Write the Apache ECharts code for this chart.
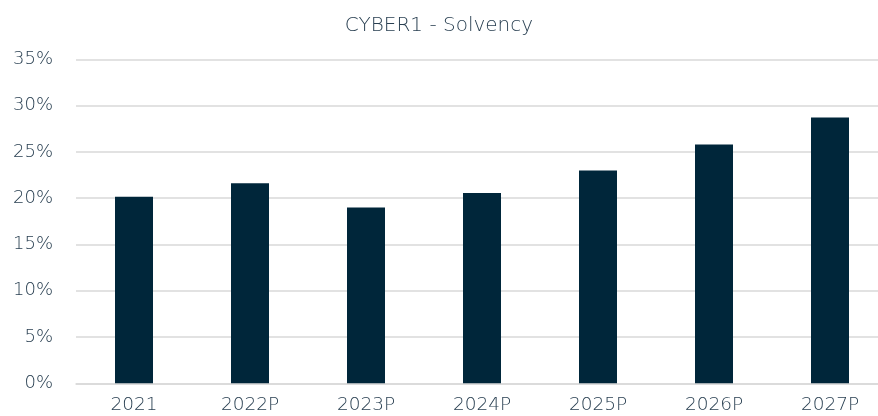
<!DOCTYPE html>
<html>
<head>
<meta charset="utf-8">
<script src="https://cdn.jsdelivr.net/npm/echarts@6/dist/echarts.min.js"></script>
<style>
  html, body { margin: 0; padding: 0; background: #fff; }
  #chart { width: 878px; height: 416px; }
</style>
</head>
<body>
<div id="chart"></div>
<script>
const categories = ['2021', '2022P', '2023P', '2024P', '2025P', '2026P', '2027P']
const solvency = [20.15, 21.6, 19.0, 20.55, 23.0, 25.8, 28.7]

const TEXT = '#2a4052'
const BAR = '#00263a'
const GRID = '#d9d9d9'
const FONT = '"DejaVu Sans", sans-serif'

const chart = echarts.init(document.getElementById('chart'), null, { renderer: 'canvas' })

chart.setOption({
  backgroundColor: '#fff',
  animation: false,
  title: {
    text: 'CYBER1 - Solvency',
    left: 'center',
    top: 11,
    textStyle: { color: TEXT, fontFamily: FONT, fontWeight: 200, fontSize: 20 }
  },
  grid: { left: 76, top: 59.3, width: 812, height: 324, outerBoundsMode: 'none' },
  xAxis: {
    type: 'category',
    data: categories,
    axisLine: { lineStyle: { color: GRID, width: 1.5 } },
    axisTick: { show: false },
    axisLabel: { color: TEXT, fontFamily: FONT, fontWeight: 200, fontSize: 18.5, margin: 12 }
  },
  yAxis: {
    type: 'value',
    min: 0,
    max: 35,
    interval: 5,
    axisLine: { show: false },
    axisTick: { show: false },
    axisLabel: { color: TEXT, fontFamily: FONT, fontWeight: 200, fontSize: 18, margin: 23, formatter: '{value}%' },
    splitLine: { lineStyle: { color: GRID, width: 1.5 } }
  },
  series: [
    {
      type: 'bar',
      data: solvency,
      barWidth: 38,
      itemStyle: { color: BAR }
    }
  ]
})
</script>
</body>
</html>
